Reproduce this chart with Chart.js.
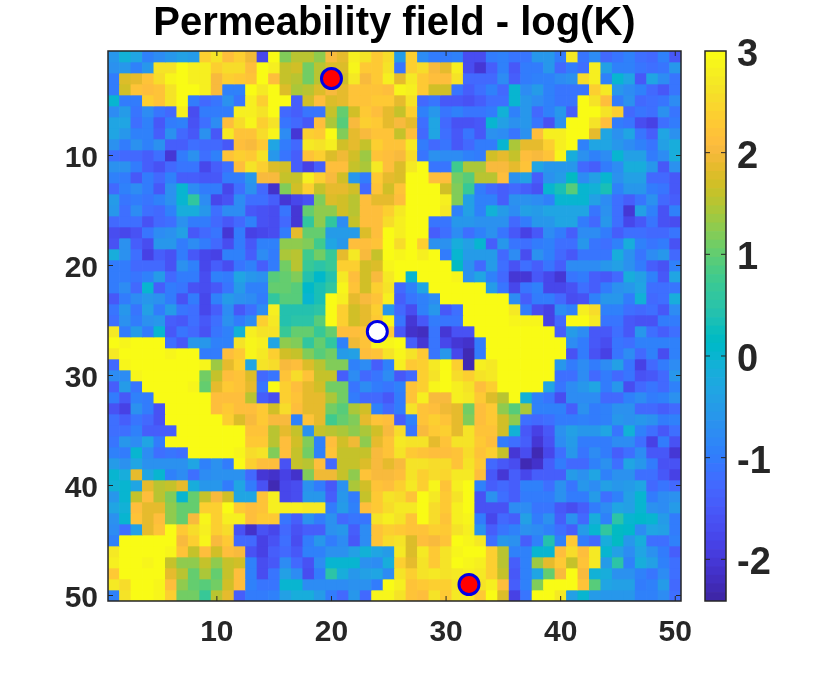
<!DOCTYPE html>
<html>
<head>
<meta charset="utf-8">
<title>Permeability field</title>
<script src="https://cdn.jsdelivr.net/npm/chart.js@4"></script>
<style>
  html, body { margin: 0; padding: 0; background: #fff; }
  #wrap { position: relative; width: 831px; height: 676px; }
  #wrap canvas { position: absolute; left: 0; top: 0; }
</style>
</head>
<body>
<div id="wrap">
  <canvas id="field" width="831" height="676"></canvas>
  <canvas id="bar" width="831" height="676"></canvas>
</div>
<script>
// log(K), row 1 is the top row
const row01 = [-.6,-.1,-.3,-.9,-.8,-.6,-.4,-.5,2.4,2.6,2.1,2.4,1.95,-1.8,3,1.2,1.5,1.5,1.25,2,1.9,2.8,2.6,2.3,2.5,-.5,2.4,-.8,-1,-1,-.9,-1.7,-1.7,-1,-.9,-1.1,-1.1,-.6,-.6,-1,2.7,-1.1,-.8,-1.3,-1.1,-.9,-1.2,-1.3,-.9,-1.5];
const row02 = [-.7,-.6,-.9,-.6,2.6,2.6,3,2.8,2.8,2.4,2.5,2.5,2.1,3,2.8,1.6,1.7,1.1,1.5,1.8,1.8,2.9,2.3,2.3,2.6,-1.1,2.4,2.5,2,1.9,2.8,-1.7,-2,-1.4,-.9,-1.5,-1,-1,-.6,-1.3,-1,-1.2,2.8,-.4,-.9,-.9,-1.1,-1.2,-1.1,-.6];
const row03 = [-1,1.8,1.9,2.2,2.5,2.9,3,2.8,2.8,2,2.4,2.3,2.2,3,2.1,1.6,1.5,1.1,1.5,1.8,1.7,2.7,2,2.3,2.8,1.85,2.7,2.3,2.1,2.1,2.6,-1.3,-1.3,-1.3,-.8,-1.4,-1,-.9,-.9,-.8,-.7,2.5,2.8,-.9,0,-.3,-1.5,-.3,-.8,-1.1];
const row04 = [-1,1.7,2.2,2.1,2.2,2.6,3,3,2.8,2,-.9,-.9,3,2.7,3,1.8,1.4,1.5,1.75,2,1.9,2.2,2.2,2.2,2.1,2.9,2.8,2.3,1.7,1.7,-1.1,-1.4,-1.2,-.9,-1.3,0,-.8,-.5,-.9,-1.1,-1.1,-1.1,2.4,2.7,-.6,-.8,-.9,-1.3,-1.5,-1.1];
const row05 = [0,-1,-1,2.4,2.2,2.6,3,-1,-1.3,-1.1,-.7,-1.1,2.8,2.4,3,3,-1.4,1.7,2.1,1.8,1.9,2.2,2.2,2.3,2.3,1.9,2.6,-1.3,-1.1,-1.5,-1.5,-1.6,-1.4,-1.2,-1.2,0,-.6,-.8,-.9,-1.1,-1.1,3,2.6,2.1,-1,-.7,-1.3,-1.2,-1.1,-.8];
const row06 = [-.8,-.5,-1.1,-.8,-1.1,-1.3,2.8,-1.7,-1,-1,-1,2.8,2.8,2.6,3,-1.3,-1.4,-1.1,-1.1,1.6,1,1.7,2.3,2.1,1.9,1.6,2.4,-.9,-.6,-1.1,-.9,-1.1,-1.1,-1,-.1,-.9,-.6,-1.3,-.9,-.6,-1.4,3,3,2.6,2.4,-1.3,-1.1,-1.2,-.7,-1.1];
const row07 = [-.3,-.3,-1.2,-.9,-1.5,-1,-.9,-1.6,-1.2,-.8,2.1,2.5,2.9,2.4,2.6,-1.1,-1.3,-1.5,2.1,1.4,.9,2,2.4,2.3,1.9,2,1.9,-1.2,-.3,-1.3,-1.6,-1.6,-1.5,0,-.4,-.7,-.6,-1.1,-1.6,-.7,3,3,2.6,2.1,-1,-1.1,-1.7,-1.9,-1.2,-1];
const row08 = [-.3,-.6,-.9,-.9,-1.4,-.7,-1.3,-1.5,-.7,-1.5,2.7,2.2,2.2,2.5,2.9,-.8,-2,2.4,2.3,3,1.2,1.9,2,2.2,2.2,1.6,2.1,-1.3,-.3,-1.2,-1.5,-1.1,-1.5,-.7,-.8,-1.1,-.7,2.1,2.8,2.8,3,3,1.9,-.3,-.7,-.3,-1.1,-1.4,-.3,-.7];
const row09 = [-.7,-1,-.7,-.9,-.7,-1.4,-1.4,-1.2,-1.3,-1.3,-1.5,2.1,2,2.3,-.3,-1,-1.3,2.7,2.6,2.8,1.7,1.9,1.6,2.4,2.2,2.2,2.7,-1,-1.3,-1.1,-1.5,-1.3,-1,-1,0,1.4,1.85,1.85,2.4,2.8,3,-.9,-.3,-.3,-.6,-.8,-.9,-1.1,-.4,-.2];
const row10 = [-1.2,-1.3,-1.3,-1.4,-1.2,-2,-1,-.7,-1.2,-.9,2.2,2.4,2.3,2.6,-.6,-1.1,-1.4,2.2,2.4,1.75,1.95,1.65,1.35,2.2,2.1,2.05,2.5,-1.1,-.7,-.8,-.8,-.9,-1,1.7,1.85,1.6,2.1,2.05,2.2,2.85,-.2,-.7,-.9,-.8,0,-.4,-.4,-1,-.8,-.2];
const row11 = [-.7,-.7,-1,-1.4,-1.6,-1.3,-1.1,-1.1,-1.8,-1.4,-1.2,2.1,2.6,2.4,1.8,1.7,-1.4,-1.9,-1.4,2.1,2.1,1.6,1.4,2.7,2.1,1.8,2.7,3,-1.1,-1.1,.8,1.4,1.4,2,2,1.85,2.2,-.3,-.6,-.6,-.6,-1.3,-1.4,-1,-.8,-.2,-.2,-.6,-1.5,-.7];
const row12 = [-.9,-1,-1.5,-1,-1.3,-.9,-1.4,-1.4,-1.5,-1.5,-1,-1,-.6,2,2,1.6,1.6,2.8,2.4,2,1.7,-.6,-1,2.3,1.85,1.8,3,3,2.1,2.1,1.1,.9,1.5,1.5,2.1,-.7,-.4,-1.4,-.7,-.5,.2,-.8,-.4,0,-.7,-.4,-.4,-1.3,-1.3,-1.5];
const row13 = [-1.3,-.9,-.8,-1,-1.5,-.7,0,-.8,-1,-1,-1.8,-1.2,-.7,-1.3,-2.1,1.2,1.7,2.4,1.6,1.85,1.85,1.7,-1.3,2.2,1.65,2.2,3,3,3,1.7,1.2,.7,-1,-1.3,-1.4,-1.3,-1.4,-1.6,0,.3,.9,0,-.1,.3,-.9,-.6,-.6,-1,-1.1,-1.5];
const row14 = [-.5,-1.1,-1,-1.1,-.9,-.7,0,.6,-.8,-1.8,-1.6,-.8,-1.2,-1.2,-1.4,-2,-1.8,-1.6,1.2,1.8,1.7,1.5,2.1,1.9,1.9,2.1,3,3,3,2.8,1.2,-.4,-.9,-.9,-1.4,-.7,-.7,-.8,-.9,0,0,0,-.4,-.8,-1.2,-1.4,-1.1,-.7,-1.3,-1.4];
const row15 = [-.6,-1.2,-.8,-1.2,-1.3,-.9,-.2,-.2,-.6,-1.2,-.8,-.8,-1.5,-1.6,-1.7,-1.1,-2,1,1.3,1.3,1.7,1.5,2.1,2.1,2.4,2.7,3,3,3,2.7,-.9,-.4,-.9,-.1,-.5,-.8,-.4,-.5,-.3,-.3,-.3,-.3,-1.1,-.7,-1.2,-2,-.4,-.9,-1.6,-.9];
const row16 = [-1.3,-1.2,-1.2,-1.6,-1.3,-1.2,-.7,-1,-1,-1.3,-1.5,-1.3,-.9,-1.6,-1.7,-1.3,-2,.6,1.3,.6,-.8,1.6,2.1,2.1,2.5,2.8,3,3,-1.1,-1.1,-.6,-.6,-.7,-.7,-.7,-1.3,-1,-.6,-.6,-.3,-.3,-1,-1.3,-.6,-1.2,-1.8,-1.5,-1.1,-1.6,-1.7];
const row17 = [-1.7,-1.8,-1.6,-1.1,-.8,-.7,-.4,-1.5,-1.3,-1.1,-2,-1,-1.9,-1.8,-1.7,-1,1.9,1,1,-.5,-.5,-.5,1.8,2.1,3,2.8,3,3,-1.4,-1.2,-.8,-1.2,-.9,-.7,-1.1,-1.5,-1.9,-1.5,-.8,-1,-1.4,-.8,-.8,-1,-1.4,-1.2,-1.2,-1.3,-1.3,-1.1];
const row18 = [-1.6,-.7,-1.4,-1.7,-.6,-.6,-1,-.8,-1,-1.3,-1.7,-1,-1.5,-.9,-.9,1.3,1.3,1.2,.8,-.3,-.6,2.1,2.1,2.2,3,2.5,3,2.4,-.7,-.7,-.2,-.4,0,-1.4,-.6,-1.1,-1.2,-1,-.9,-1.2,-1.2,-.6,-1.1,-1.2,-.9,-.2,-.9,-1.1,-1,-1.6];
const row19 = [-.2,-.7,-1.2,-1.9,-1.4,-1.6,-1,-1.5,-1.8,-1.9,-.9,-.9,-1.4,-.8,-1,1.4,1.5,.8,1.1,.7,1.9,2.7,2,1.6,3,2.9,3,2.8,3,-1,0,-.5,-.5,-.5,-1.3,-.8,-1.7,-.7,-.9,-1.3,-1.5,-1.1,-1.1,-1.1,-.2,-.7,-1.1,-.8,-.6,-1.3];
const row20 = [-1,-1,-1.3,-1.3,-1.3,-1.6,-.7,-.9,-1.8,-1.4,-1.7,-1.1,-.9,-1.4,-1,1.1,1.5,.7,.5,.7,2.4,2.4,1.7,1.8,2.85,3,3,3,3,3,.2,-.7,-1.3,-.5,-1.2,-1.6,-1.2,-1.4,-1.1,-1.4,-.8,-.8,-.8,-.6,-.4,-.7,-1,-1.4,-1.6,-.9];
const row21 = [-1,-1,-1.1,-.9,-.5,-1.3,-1,-1,-1.7,-.9,-1,-.3,-.6,-.7,.95,1,1.2,.4,.1,.4,2.7,2.1,1.7,2,2.7,3,0,3,3,3,2.9,-.7,-.3,-.9,-1.3,-2,-2,-1.5,-1.8,-2,-1.1,-1,-1.4,-1.5,-1.3,-.2,-.4,-.9,-1.5,-.3];
const row22 = [-1,-.8,-1.3,0,-1.4,-1,-1.1,-1.6,-1.7,-1.5,-1.1,-.5,-.9,-.9,1,1,.9,.1,.3,.6,2.9,2.2,1.7,2.4,2.6,-1.3,-.9,-.3,3,3,3,3,3,-.5,-1.1,-1.8,-1.1,-.9,-1.8,-1.8,-1.6,-1.2,-1.4,-1,-.7,-.6,-.3,-1.2,-1.2,-1.1];
const row23 = [-1.5,-1,-.8,-.6,-.7,-1,-1.6,-1,-1.8,-.9,-.5,-.7,-.8,-1,.6,.9,.9,0,.3,3,2.8,1.9,2,2.2,2.8,-1.4,-1.1,-.9,-.8,3,3,3,3,3,3,-.8,-1.4,-1,-1,-1.3,-1.7,-1.6,-.9,-.6,-.6,-1,-.1,-1.3,-1.2,-.2];
const row24 = [-1.1,-.6,-1.1,-.4,-1,-.5,-1.1,-1.2,-1.8,-1.4,-.8,-1.5,-1.2,-.8,2.8,.4,.4,.4,.5,3,2.4,1.7,1.9,2.4,-.6,-1.3,-1.7,-.9,-.6,-1.5,-1.2,3,3,3,3,2.7,-1,-1.7,-1.9,-.8,-.9,2.8,2.5,-.9,-.9,-1.2,-1.3,-1.2,-1.5,-.8];
const row25 = [-1.2,-.7,-1,-.7,-.6,-1.4,-1.5,-1.2,-1.5,-1.2,-.7,-1,-.8,2.4,2.7,.4,.5,.5,.9,3,2.4,1.7,1.9,2.3,2.9,-1.1,-2,-1.5,-1,-1.1,-1.1,3,3,3,3,2.85,2.85,2.9,-1.9,-1.3,3,3,2.7,-1.1,-1.1,-1.5,-1.6,-1.6,-1,-1];
const row26 = [2.7,-1,-.5,-1,0,-1.5,-1.1,-1.3,-1.6,-1.1,-.9,-.1,2.8,2.6,2.6,.7,1,1,.7,1,2.1,2.1,2.2,2.3,2.3,-1.5,-2.1,-2.2,-1.1,-2,-1.6,-1.6,3,3,3,3,3,3,3,-1.4,-.5,-.8,-1.5,-1.5,-1.2,-1.5,-.6,-1.2,-1.4,-1.2];
const row27 = [3,2.9,3,3,3,-1.2,-1.5,-.6,-.6,-.9,-.9,2.6,2.9,2.8,-.3,1.3,1.2,.6,1,.6,-.9,1.95,2.2,2.9,2.9,3,-1.4,-2,-1.1,-1.8,-2,-2.1,-1,3,3,3,3,3,3,3,-.8,-1,-1.5,-1.7,-1.1,-1.2,-.9,-.9,-.9,-.9];
const row28 = [2.7,3,3,3,3,2.9,3,3,-1,-1,2.1,2.3,2.9,2.7,2.4,1.65,1.6,1.2,.9,1.1,-.5,-.4,2.1,2.2,2.6,2.85,2.6,2.3,-1.1,-.6,-1.8,-2.3,-1,3,3,3,3,3,3,3,-1.6,-1,-1.6,-1.9,-1.1,-.8,-1.3,-.9,-1.7,-.9];
const row29 = [-1.3,2.9,3,3,3,3,3,3,2.9,1.35,1.85,2.4,-.3,2.6,2.5,2,2.1,1.8,1.5,1.2,1.2,-.9,-.8,-1.4,-.9,2.8,2.3,2.4,2.7,3,2.4,-2.3,2.8,2.7,3,3,3,3,3,-.6,-1,-.8,-1,-.8,-.4,-1.1,-1.9,-1.3,-1,-.8];
const row30 = [-.8,-.8,2.9,3,3,3,3,3,1.1,1.6,2.1,2.2,1.8,-1.3,-1.1,2.2,2.5,2.2,1.6,1.6,-1.4,-.8,-1.3,-1.1,-.8,-1.5,-1.3,2.4,2.6,3,2.5,2.4,2.6,2.7,3,3,3,3,3,-1.2,-1.2,-.8,-1.3,-1,-1.3,-1.1,-1.6,-1.5,-1.3,-.6];
const row31 = [-1.4,-.5,-1.1,3,3,3,3,2.9,1,1.9,2.3,2.2,1.9,-1.1,3,2.4,2.1,1.9,1.7,1.1,1.1,-1.1,-.8,-1,-1.1,-.9,2.2,2.4,2.9,3,2.8,2.6,2.1,2.4,3,3,3,3,-.3,-1.1,-.8,-.6,-.3,-1,-.6,-1.7,-1.3,-1.1,-1.3,-.9];
const row32 = [-1,-1.5,-.9,-1,3,3,3,3,3,2.1,2.1,2.1,1.5,-1.4,-1.7,2.4,2.2,1.85,1.85,1.4,1.1,-1,-1.3,-1.3,-1.5,-1,2.2,2.8,2,2.05,2.8,2.7,2.3,1.75,1.55,3,-.1,-.9,-1.1,-1.7,-.8,-.8,-.8,-1.3,-1.3,-.9,-.8,-1,-.9,-.7];
const row33 = [-1.6,-1.9,-.7,-1,-1.6,3,3,3,3,2.1,2.3,2.1,2.1,2.3,1.7,2.5,2.1,1.85,1.85,1.1,.9,1.4,1.65,-.9,-1.3,-1,2.6,2.2,2.1,1.95,1.85,1.1,2.1,2.3,1.25,.9,1.4,-.9,-.9,-.9,-1.4,-.7,-1,-.9,-.7,-.7,-1.3,-1.3,-1.4,-1.3];
const row34 = [-1.2,-1.4,-1.1,-1.3,-1.6,3,3,3,3,3,2.4,1.75,2,2.3,2,2,-.9,2.2,1.9,.8,1,1.2,1.85,2.2,2.1,-1.4,-.9,2.2,2.4,2.2,1.85,1.2,2.1,2.3,1.7,1.3,-1.2,-1.3,-1.2,-1,-1,-.9,-1,-.9,-.6,-.7,-.6,-.7,-1,-.9];
const row35 = [-1.2,-1.2,-.9,-1.4,-1.4,-1.4,3,3,3,3,3,3,2.2,2.2,1.5,1.9,1.6,-.7,1.6,1.5,1.4,1.3,1.45,1.65,2.05,2.5,-1.1,2,2.3,2.4,1.85,2.6,2.2,2.2,1.65,-.1,-1.5,-1.9,-1.5,-.7,-.4,-.6,-.6,-.3,-1.1,-.1,-.9,-1.2,-1.5,-1.2];
const row36 = [-1.1,-.6,-.8,-.3,-1,3,3,3,3,3,3,3,2.3,2.3,1.5,2.1,1.65,1.2,-.9,2.1,1.65,1.95,1.3,1.85,2.2,2.7,2.6,2.6,1.9,2.2,2.6,2.6,2.3,2.1,-1,-1.2,-1.4,-2,-1.6,-.8,-.5,-1,-1,-1,-.8,-.8,-1.2,-1.9,-1,-1.6];
const row37 = [-.9,-1,0,-.8,-1.2,-1.1,-1.2,3,3,3,3,2.9,2.5,2.6,1.2,2.1,1.6,1.1,-.9,2.2,1.6,1.6,1.6,2,2.2,2.6,2.3,2.2,2.1,2.1,2.2,2.5,2.2,2.35,1.6,-2,-1.7,-2.3,-1.8,-1.2,-.6,-1.1,-.8,-1,-1.4,-1.2,-.8,-1.5,-1.5,-2];
const row38 = [-.5,-.7,-.3,-.7,-.7,-.7,-.7,-.3,-.9,-.7,-1,3,2.4,2.1,2.1,-1.6,1.6,1.5,2.1,-1.3,1.6,1.6,1.8,2,1.9,2,2.6,2.6,2.5,2.5,2.2,2.6,2.3,-1.3,-1.5,-1.7,-2.3,-2.1,-1.4,-1,-1.3,-1.3,-.9,-.7,-1.2,-.3,-.6,-1,-1.6,-1.6];
const row39 = [0,-.2,1.9,-.3,0,-.9,-.8,-1.2,-.8,-.7,-.7,-.7,-1.3,-2,-2.1,-1.9,-2.1,1.2,1.95,1.95,1.6,1.3,2.2,2,2.05,2.1,2.6,2.4,2.5,2.45,2.7,2.7,2.1,-1.5,-2,-1.4,-1.8,-1.4,-1.4,-1.4,-.5,-.7,-.3,-.9,-.7,-.7,-1.2,-1.2,-1.5,-1.9];
const row40 = [-.1,0,-.3,1.9,1.5,1.6,1.9,-.2,-.6,-.6,-1,-.3,-1,-1.6,-2.3,-1.8,-1.7,-.7,-1,-1.5,-.7,1.4,1.65,2.2,2.1,2.4,2.7,2.4,2.9,2.2,2.8,3,-.9,-1.4,-1.3,-1.4,-.9,-.9,-1.2,-.7,-1.1,-.6,-.8,-.4,-.6,-.5,-.3,-1.3,-1.1,-1.3];
const row41 = [-.6,0,1.6,2.1,1.5,1.2,0,1,1.6,2,1.7,-.3,-.3,2.2,2.8,-1.8,-1.7,-.6,-.6,-1.4,-.6,-1,1.6,2.3,2.6,2.5,2.2,3,2.7,2.3,2.6,3,-1.6,-.7,-1.2,-1.4,-1,-1,-1,-.7,-1,-1,-.5,-1.2,-.9,-.4,0,-1,-.8,-.7];
const row42 = [-.3,-.1,2.1,1.9,1.9,1.3,1,1,2.4,2.4,3,2.3,2.1,2.2,2.8,2.8,2.8,2.7,2.7,-1,-.5,-.9,2.1,2.3,2.5,2.7,2.7,3,2.5,2.3,2.8,3,-1.6,-1.6,-1.6,-.8,-.8,-1.1,-1.1,-1.5,-1.7,-1.4,-1,-.8,-.3,-.4,0,-.7,-.8,-.5];
const row43 = [-.7,0,2.2,1.9,2.1,1.3,1,2,2.9,2.4,2.8,2.8,2.1,2.3,2.3,-1.1,-1.4,-.7,-1,-.7,-1.3,-1.1,-1.1,2.6,2.8,2.6,2.2,3,2.5,2.2,2.8,2.9,-1,-1.8,-1.3,-1.4,-.4,-1,-.7,-1.4,-.7,-1.3,-.2,-.9,.5,0,.1,0,-.5,-1];
const row44 = [-.8,-1.2,-.4,1.9,2.2,3,2.3,2.5,2.8,2.4,2.5,-1.6,-2.1,-1.6,-1.8,-1.3,-1.6,-1.4,-1.4,-.7,-.6,-1.4,-.8,2.2,2.4,2.3,2.2,2.2,2.4,2.3,2.6,2.8,-.7,-1.4,-1.1,-.9,-.7,-.8,-.9,-1.2,-1.4,-.5,0,.6,.2,.1,-.8,-.3,-.4,-1];
const row45 = [-.9,3,3,3,3,3,2,2.4,2.9,2,2.3,-1.3,-1.3,-1.9,-1.6,-1.2,-1.7,-1,-.6,-1,-.8,-1.5,-.8,2.2,2.5,2.6,1.8,2.1,2,2.2,3,2.9,2.7,-1.2,-.6,-.7,-1.4,-.9,.4,-.9,2.3,-1,-1.3,-.2,.2,-.6,-.2,-1.2,-1.2,-.9];
const row46 = [2.7,3,3,3,3,2.9,2.2,1.6,2.1,1.7,2.1,2,-1.6,-1.9,-1.4,-1.3,-1.5,-.9,-.9,-.7,-.7,-.4,-.1,-.3,-.5,2.7,1.8,2.7,2.3,2.6,2.9,3,3,2.4,1.5,-.9,-.9,0,0,2.1,2.5,2.1,2.7,0,-.4,-.8,-.3,-.7,-1,-1.4];
const row47 = [2.8,3,3,2.9,3,1.6,1.3,1.3,1.6,1.3,1.6,1.7,-.9,-1.7,-1.5,-.8,-1.3,-1.6,-.8,0,0,0,-.7,-.8,-.2,2.4,1.9,2.6,2.3,2.6,3,2.9,2.8,2.4,1.55,-1.4,-.9,1.35,1.9,2.3,1.6,2.2,2.7,-.5,.5,-.9,-.2,-.4,-.9,-1.2];
const row48 = [2.3,3,3,3,3,1.9,1.5,1,1.4,1,1.6,2.1,-.9,-1.7,-1.1,-.4,-.8,-1.7,-1,.5,-.2,-.6,-.4,-.3,-.8,2.6,2.4,2.6,2.7,2.6,2.7,2.8,2.7,2.4,1.6,-1.5,-.9,-.3,1,2,3,2,-.1,-.2,-.7,-.7,-.9,-1.1,-.8,-1.2];
const row49 = [2.7,2.5,3,3,2.9,2.1,1.3,1,.9,1.1,1.7,2.1,-.9,-1.1,-1.1,0,0,-.8,-.8,-.8,-.8,-.7,-.7,-1,3,2.8,2.2,2.3,2.4,2.4,2.6,2.6,2.6,2.8,2.1,-1.4,-.9,1.2,3,3,3,2.2,.9,-.3,-.4,-.4,-1,-.9,-.5,-1.3];
const row50 = [-.9,2.6,3,3,2.9,2.4,1.1,1.1,.7,1.55,1.85,-1.4,-1,-1,-.9,-.4,-.2,-.2,-.5,-1,-1.3,-.6,-1.3,2.9,2.9,2.6,2.2,2.1,2.6,2.3,2.7,2.7,2.3,3,1.8,-1.9,-1.1,3,3,2.7,-.4,0,-.5,-.6,-.6,-.6,-.9,-.9,-.8,-1.2];

const fieldRows = [row01,row02,row03,row04,row05,row06,row07,row08,row09,row10,
  row11,row12,row13,row14,row15,row16,row17,row18,row19,row20,
  row21,row22,row23,row24,row25,row26,row27,row28,row29,row30,
  row31,row32,row33,row34,row35,row36,row37,row38,row39,row40,
  row41,row42,row43,row44,row45,row46,row47,row48,row49,row50];

const columns = fieldRows[0].map((v, i) => String(i + 1));
const axisTicks = [10, 20, 30, 40, 50];
const colorTicks = [-2, -1, 0, 1, 2, 3];
const clim = [-2.41, 3];

// wells
const wellX = ['20', '32', '24'];
const wellY = [3, 49, 26];
const wellFill = ['#ff0000', '#ff0000', '#ffffff'];

// parula, 64 levels
const parula = [
  [.2422,.1504,.6603],[.2504,.1650,.7076],[.2578,.1818,.7511],[.2647,.1978,.7952],
  [.2706,.2147,.8364],[.2751,.2342,.8710],[.2783,.2559,.8991],[.2803,.2782,.9221],
  [.2813,.3006,.9414],[.2810,.3228,.9579],[.2795,.3447,.9717],[.2760,.3667,.9829],
  [.2699,.3892,.9906],[.2602,.4123,.9952],[.2440,.4358,.9988],[.2206,.4603,.9973],
  [.1963,.4847,.9892],[.1834,.5074,.9798],[.1786,.5289,.9682],[.1764,.5499,.9520],
  [.1687,.5703,.9359],[.1540,.5902,.9218],[.1460,.6091,.9079],[.1380,.6276,.8973],
  [.1248,.6459,.8883],[.1113,.6635,.8763],[.0952,.6798,.8598],[.0689,.6948,.8394],
  [.0297,.7082,.8163],[.0036,.7203,.7917],[.0067,.7312,.7660],[.0433,.7411,.7394],
  [.0964,.7500,.7120],[.1408,.7584,.6842],[.1717,.7670,.6554],[.1938,.7758,.6251],
  [.2161,.7843,.5923],[.2470,.7918,.5567],[.2906,.7973,.5188],[.3406,.8008,.4789],
  [.3909,.8029,.4354],[.4456,.8024,.3909],[.5044,.7993,.3480],[.5616,.7942,.3045],
  [.6174,.7876,.2612],[.6720,.7793,.2227],[.7242,.7698,.1910],[.7738,.7598,.1646],
  [.8203,.7498,.1535],[.8634,.7406,.1596],[.9035,.7330,.1774],[.9393,.7288,.2100],
  [.9728,.7298,.2394],[.9956,.7434,.2371],[.9970,.7659,.2199],[.9952,.7893,.2028],
  [.9892,.8136,.1885],[.9786,.8386,.1766],[.9676,.8639,.1643],[.9610,.8890,.1537],
  [.9597,.9135,.1423],[.9628,.9373,.1265],[.9691,.9606,.1064],[.9769,.9839,.0805]
];

function levelColor(i) {
  var c = parula[i];
  return 'rgb(' + Math.round(c[0] * 255) + ',' + Math.round(c[1] * 255) + ',' + Math.round(c[2] * 255) + ')';
}

function valueColor(v) {
  var i = Math.floor((v - clim[0]) / (clim[1] - clim[0]) * parula.length);
  return levelColor(Math.max(0, Math.min(parula.length - 1, i)));
}

var tickColor = '#262626';
var fontFamily = '"Liberation Sans", Arial, sans-serif';

// box and inward ticks, matlab style
var boxPlugin = {
  id: 'box',
  afterDatasetsDraw: function (chart, args, opts) {
    var a = chart.chartArea, ctx = chart.ctx, len = opts.len;
    ctx.save();
    ctx.strokeStyle = tickColor;
    ctx.lineWidth = opts.width;
    ctx.strokeRect(a.left, a.top, a.right - a.left, a.bottom - a.top);
    ctx.lineWidth = 1;
    ctx.beginPath();
    opts.yTicks.forEach(function (t) {
      var p = chart.scales.y.getPixelForValue(t);
      ctx.moveTo(a.left, p); ctx.lineTo(a.left + len, p);
      ctx.moveTo(a.right, p); ctx.lineTo(a.right - len, p);
    });
    if (opts.xTicks) {
      opts.xTicks.forEach(function (t) {
        var p = chart.scales.x.getPixelForValue(String(t));
        ctx.moveTo(p, a.top); ctx.lineTo(p, a.top + len);
        ctx.moveTo(p, a.bottom); ctx.lineTo(p, a.bottom - len);
      });
    }
    ctx.stroke();
    ctx.restore();
  }
};

// Permeability field
var fieldSets = fieldRows.map(function (row, r) {
  return {
    type: 'bar',
    order: 2,
    grouped: false,
    barPercentage: 1,
    categoryPercentage: 1,
    borderWidth: 0,
    backgroundColor: row.map(valueColor),
    data: row.map(function () { return [r + 0.5, r + 1.5]; })
  };
});

fieldSets.push({
  type: 'line',
  order: 1,
  showLine: false,
  pointRadius: 10,
  pointBorderWidth: 3,
  pointBorderColor: '#0000e6',
  pointBackgroundColor: wellFill,
  data: wellX.map(function (x, i) { return {x: x, y: wellY[i]}; })
});

new Chart(document.getElementById('field'), {
  type: 'bar',
  data: {labels: columns, datasets: fieldSets},
  plugins: [boxPlugin],
  options: {
    responsive: false,
    animation: false,
    layout: {padding: {left: 0, right: 150, top: 0, bottom: 0}},
    plugins: {
      legend: {display: false},
      tooltip: {enabled: false},
      title: {
        display: true,
        text: 'Permeability field - log(K)',
        color: '#000',
        fullSize: false,
        font: {family: fontFamily, size: 40, weight: 'bold', lineHeight: 1.05},
        padding: {top: 3, bottom: 6}
      },
      box: {len: 5, width: 1.5, xTicks: axisTicks, yTicks: axisTicks}
    },
    scales: {
      x: {
        type: 'category',
        offset: true,
        grid: {display: false, drawTicks: false},
        border: {display: false},
        afterFit: function (s) { s.height = 75; },
        ticks: {
          autoSkip: false,
          maxRotation: 0,
          padding: 13.5,
          color: tickColor,
          font: {family: fontFamily, size: 30, weight: 'bold'},
          callback: function (v, i) {
            return axisTicks.indexOf(i + 1) >= 0 ? String(i + 1) : '';
          }
        }
      },
      y: {
        type: 'linear',
        reverse: true,
        min: 0.5,
        max: 50.5,
        grid: {display: false, drawTicks: false},
        border: {display: false},
        afterFit: function (s) { s.width = 108; },
        afterBuildTicks: function (s) {
          // labels sit a little under their tick marks
          s.ticks = axisTicks.map(function (v) { return {value: v + 0.32}; });
        },
        ticks: {
          padding: 10,
          color: tickColor,
          font: {family: fontFamily, size: 30, weight: 'bold'},
          callback: function (v) { return String(Math.round(v)); }
        }
      }
    }
  }
});

// Colorbar
var barSets = parula.map(function (c, i) {
  var step = (clim[1] - clim[0]) / parula.length;
  return {
    grouped: false,
    barPercentage: 1,
    categoryPercentage: 1,
    borderWidth: 0,
    backgroundColor: levelColor(i),
    data: [[clim[0] + i * step, clim[0] + (i + 1) * step]]
  };
});

new Chart(document.getElementById('bar'), {
  type: 'bar',
  data: {labels: [''], datasets: barSets},
  plugins: [boxPlugin],
  options: {
    responsive: false,
    animation: false,
    layout: {padding: {left: 705, right: 0, top: 51, bottom: 75}},
    plugins: {
      legend: {display: false},
      tooltip: {enabled: false},
      box: {len: 5, width: 1.5, yTicks: colorTicks.slice(0, 5)}
    },
    scales: {
      x: {
        display: false,
        offset: true,
        grid: {display: false}
      },
      y: {
        position: 'right',
        min: clim[0],
        max: clim[1],
        grid: {display: false, drawTicks: false},
        border: {display: false},
        afterFit: function (s) { s.width = 105; },
        afterBuildTicks: function (s) {
          s.ticks = colorTicks.map(function (v) { return {value: v - 0.045}; });
        },
        ticks: {
          padding: 11,
          color: tickColor,
          font: {family: fontFamily, size: 38, weight: 'bold'},
          callback: function (v) { return String(Math.round(v)); }
        }
      }
    }
  }
});
</script>
</body>
</html>
